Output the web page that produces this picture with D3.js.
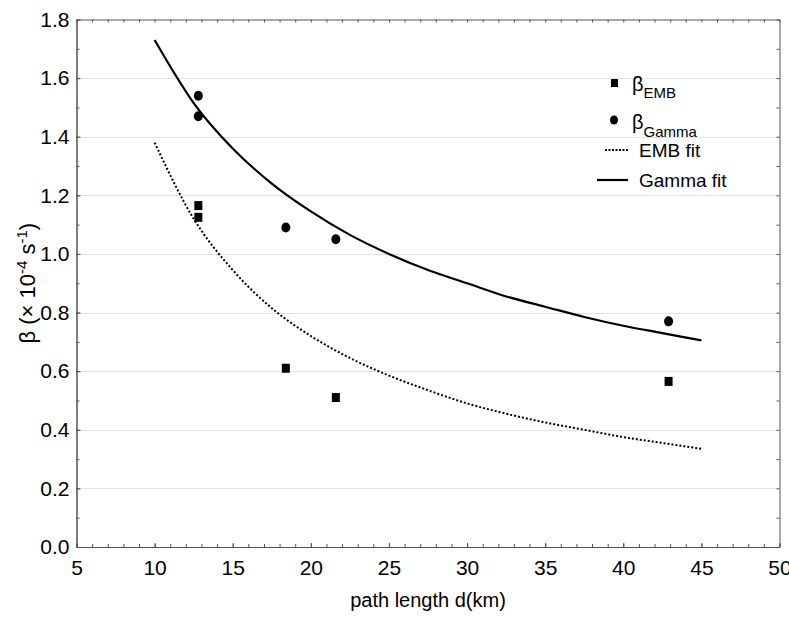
<!DOCTYPE html>
<html>
<head>
<meta charset="utf-8">
<script src="https://cdn.jsdelivr.net/npm/d3@7"></script>
<style>
  body { margin: 0; background: #fff; }
  text { font-family: "Liberation Sans", Arial, sans-serif; fill: #000; }
</style>
</head>
<body>
<div id="chart"></div>
<script>
// measured points
var embD = [12.8, 12.8, 18.4, 21.6, 42.9];
var embBeta = [1.165, 1.125, 0.61, 0.51, 0.565];
var gammaD = [12.8, 12.8, 18.4, 21.6, 42.9];
var gammaBeta = [1.54, 1.47, 1.09, 1.05, 0.77];

// fit curves
var fitD = [10, 12.5, 15, 17.5, 20, 22.5, 25, 27.5, 30, 32.5, 35, 37.5, 40, 42.5, 45];
var gammaFit = [1.73, 1.515, 1.36, 1.24, 1.145, 1.065, 1.00, 0.945, 0.90, 0.855, 0.82, 0.785, 0.755, 0.73, 0.705];
var embFit = [1.38, 1.12, 0.945, 0.815, 0.72, 0.645, 0.585, 0.535, 0.49, 0.455, 0.425, 0.40, 0.375, 0.355, 0.335];

// axis ticks
var xTicks = [5, 10, 15, 20, 25, 30, 35, 40, 45, 50];
var yTicks = [0, 0.2, 0.4, 0.6, 0.8, 1.0, 1.2, 1.4, 1.6, 1.8];
var xMinor = d3.range(5, 51, 1);
var yMinor = d3.range(0, 19, 1).map(function(i) { return i / 10; });

var W = 789, H = 618;
var pLeft = 76.5, pRight = 779.5, pTop = 19.5, pBottom = 547;

var svg = d3.select("#chart")
  .append("svg")
  .attr("width", W)
  .attr("height", H);

var x = d3.scaleLinear().domain([5, 50]).range([pLeft, pRight]);
var y = d3.scaleLinear().domain([0, 1.8]).range([pBottom, pTop]);

// grid lines
svg.append("g")
  .selectAll("line")
  .data(yTicks.slice(1, -1))
  .enter()
  .append("line")
  .attr("x1", pLeft)
  .attr("x2", pRight)
  .attr("y1", function(d) { return Math.round(y(d)) + 0.5; })
  .attr("y2", function(d) { return Math.round(y(d)) + 0.5; })
  .attr("stroke", "#c4c4c4")
  .attr("stroke-dasharray", "1,1");

function styleAxis(g) {
  g.selectAll(".domain").attr("stroke", "#555");
  g.selectAll(".tick line").attr("stroke", "#555");
  g.selectAll("text").attr("font-size", 21).attr("font-family", "Liberation Sans, Arial, sans-serif").attr("fill", "#111");
}

// minor ticks
svg.append("g")
  .attr("transform", "translate(0," + pBottom + ")")
  .call(d3.axisBottom(x).tickValues(xMinor).tickFormat("").tickSizeInner(-3).tickSizeOuter(0))
  .call(styleAxis);
svg.append("g")
  .attr("transform", "translate(0," + pTop + ")")
  .call(d3.axisTop(x).tickValues(xMinor).tickFormat("").tickSizeInner(-3).tickSizeOuter(0))
  .call(styleAxis);
svg.append("g")
  .attr("transform", "translate(" + pLeft + ",0)")
  .call(d3.axisLeft(y).tickValues(yMinor).tickFormat("").tickSizeInner(-3).tickSizeOuter(0))
  .call(styleAxis);
svg.append("g")
  .attr("transform", "translate(" + pRight + ",0)")
  .call(d3.axisRight(y).tickValues(yMinor).tickFormat("").tickSizeInner(-3).tickSizeOuter(0))
  .call(styleAxis);

// major ticks with labels
svg.append("g")
  .attr("transform", "translate(0," + pBottom + ")")
  .call(d3.axisBottom(x).tickValues(xTicks).tickFormat(d3.format("d")).tickSizeInner(-4).tickSizeOuter(0).tickPadding(13))
  .call(styleAxis);
svg.append("g")
  .attr("transform", "translate(" + pLeft + ",0)")
  .call(d3.axisLeft(y).tickValues(yTicks).tickFormat(d3.format(".1f")).tickSizeInner(-4).tickSizeOuter(0).tickPadding(7))
  .call(styleAxis);

// fit lines
var fitLine = function(vals) {
  return d3.line()
    .x(function(d, i) { return x(fitD[i]); })
    .y(function(d) { return y(d); })
    .curve(d3.curveMonotoneX)(vals);
};

svg.append("path")
  .attr("d", fitLine(embFit))
  .attr("fill", "none")
  .attr("stroke", "#000")
  .attr("stroke-width", 2)
  .attr("stroke-dasharray", "2,2");

svg.append("path")
  .attr("d", fitLine(gammaFit))
  .attr("fill", "none")
  .attr("stroke", "#000")
  .attr("stroke-width", 2.2);

// points
svg.append("g")
  .selectAll("rect")
  .data(embBeta)
  .enter()
  .append("rect")
  .attr("x", function(d, i) { return x(embD[i]) - 4; })
  .attr("y", function(d) { return y(d) - 4.5; })
  .attr("width", 8)
  .attr("height", 9)
  .attr("fill", "#000");

svg.append("g")
  .selectAll("ellipse")
  .data(gammaBeta)
  .enter()
  .append("ellipse")
  .attr("cx", function(d, i) { return x(gammaD[i]); })
  .attr("cy", function(d) { return y(d); })
  .attr("rx", 4.5)
  .attr("ry", 5)
  .attr("fill", "#000");

// legend
var lg = svg.append("g");
lg.append("rect").attr("x", 611).attr("y", 79).attr("width", 7).attr("height", 8).attr("fill", "#000");
var t1 = lg.append("text").attr("x", 632).attr("y", 91).attr("font-size", 20).text("β");
t1.append("tspan").attr("dy", 7).attr("font-size", 15).text("EMB");

lg.append("ellipse").attr("cx", 614).attr("cy", 120).attr("rx", 4).attr("ry", 4.5).attr("fill", "#000");
var t2 = lg.append("text").attr("x", 632).attr("y", 129).attr("font-size", 20).text("β");
t2.append("tspan").attr("dy", 8).attr("font-size", 15).text("Gamma");

lg.append("line").attr("x1", 605).attr("x2", 628).attr("y1", 150).attr("y2", 150)
  .attr("stroke", "#000").attr("stroke-width", 2).attr("stroke-dasharray", "2,1.5");
lg.append("text").attr("x", 639).attr("y", 157).attr("font-size", 19).text("EMB fit");

lg.append("line").attr("x1", 597).attr("x2", 628).attr("y1", 180).attr("y2", 180)
  .attr("stroke", "#000").attr("stroke-width", 2.2);
lg.append("text").attr("x", 639).attr("y", 187).attr("font-size", 19).text("Gamma fit");

// axis titles
svg.append("text")
  .attr("x", (pLeft + pRight) / 2)
  .attr("y", 607)
  .attr("text-anchor", "middle")
  .attr("font-size", 20)
  .text("path length d(km)");

var yt = svg.append("text")
  .attr("transform", "translate(35," + ((pTop + pBottom) / 2) + ") rotate(-90)")
  .attr("text-anchor", "middle")
  .attr("font-size", 22);
yt.append("tspan").text("β (× 10");
yt.append("tspan").attr("dy", -8).attr("font-size", 15).text("-4");
yt.append("tspan").attr("dy", 8).text(" s");
yt.append("tspan").attr("dy", -8).attr("font-size", 15).text("-1");
yt.append("tspan").attr("dy", 8).text(")");
</script>
</body>
</html>
